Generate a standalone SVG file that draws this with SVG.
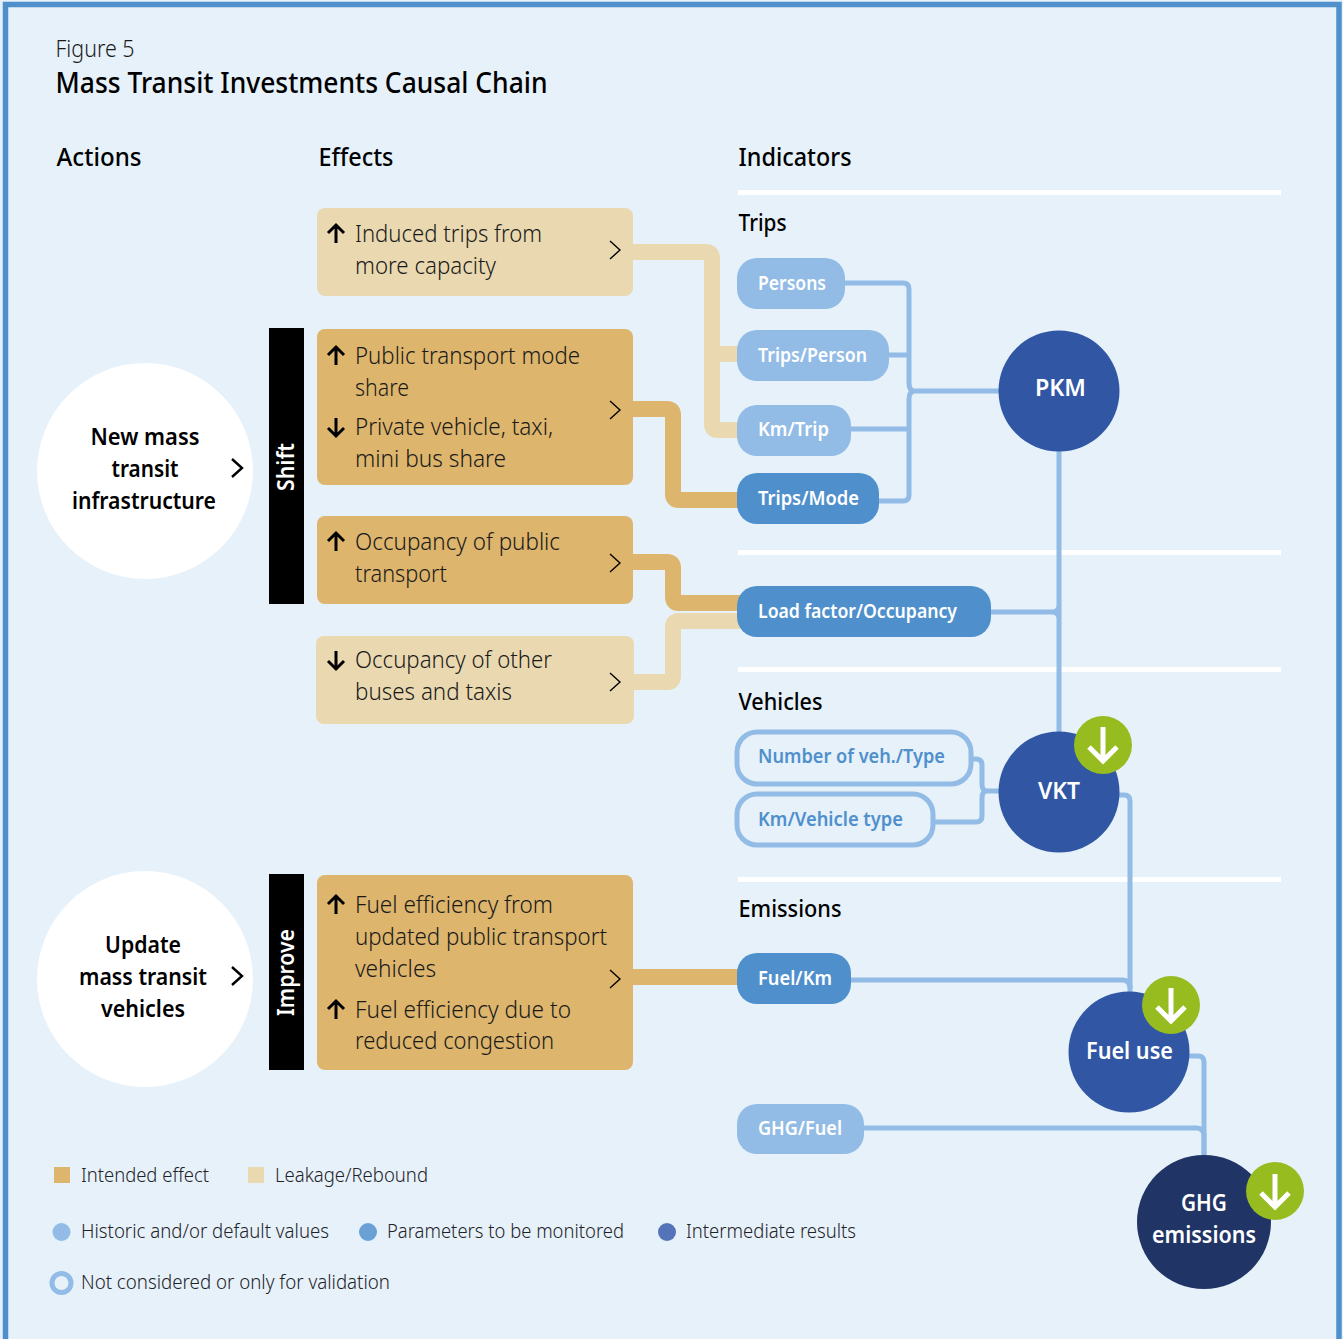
<svg xmlns="http://www.w3.org/2000/svg" width="1343" height="1339" viewBox="0 0 1343 1339">
<defs><style>
text{font-family:"Noto Sans","Open Sans","Liberation Sans",sans-serif;fill:#1a1a1a}
.h{font-size:26px;font-weight:500;fill:#000}
.s{font-size:23.5px;font-weight:500;fill:#000}
.b{font-size:24.5px;font-weight:300;fill:#1a1a1a}
.a{font-size:24px;font-weight:600;fill:#000;text-anchor:middle}
.p{font-size:19.5px;font-weight:600;fill:#fff}
.o{font-size:19.5px;font-weight:600;fill:#4f90cc}
.c{font-size:24px;font-weight:600;fill:#fff;text-anchor:middle}
.l{font-size:20px;font-weight:300;fill:#1f2328}
.light{fill:#92bce6}.mid{fill:#4f90cc}
.out{fill:#e6f1fa;stroke:#92bce6;stroke-width:5}
.intended{fill:#ddb56c}.leak{fill:#ead9b0}
.pkm{fill:#3157a4}.ghg{fill:#203465}.g{fill:#96bc20}
.arrw{fill:none;stroke:#fff;stroke-width:5}
.ar{fill:none;stroke:#000;stroke-width:3}
.ch{fill:none;stroke:#000;stroke-width:1.4}
.chb{fill:none;stroke:#000;stroke-width:2.4}
.w16i{fill:none;stroke:#ddb56c;stroke-width:16}
.w16l{fill:none;stroke:#ead9b0;stroke-width:16}
.w5{fill:none;stroke:#92bce6;stroke-width:5}
</style></defs>
<rect x="0" y="0" width="1343" height="1339" fill="#e6f1fa"/>
<path d="M5.500 1339V4.500H1339V1339" fill="none" stroke="#4f90cc" stroke-width="5.500"/>
<g id="titles">
<text x="55.500" y="57" font-size="23" font-weight="300" textLength="79" lengthAdjust="spacingAndGlyphs">Figure 5</text>
<text x="55.500" y="93" font-size="28" font-weight="500" style="fill:#000" textLength="492" lengthAdjust="spacingAndGlyphs">Mass Transit Investments Causal Chain</text>
<text class="h" x="56.500" y="166" textLength="85" lengthAdjust="spacingAndGlyphs">Actions</text>
<text class="h" x="318.500" y="166" textLength="75" lengthAdjust="spacingAndGlyphs">Effects</text>
<text class="h" x="738.500" y="166" textLength="113" lengthAdjust="spacingAndGlyphs">Indicators</text>
<text class="s" x="738.500" y="231" textLength="48" lengthAdjust="spacingAndGlyphs">Trips</text>
<text class="s" x="738.500" y="710" textLength="84" lengthAdjust="spacingAndGlyphs">Vehicles</text>
<text class="s" x="738.500" y="917" textLength="103" lengthAdjust="spacingAndGlyphs">Emissions</text>
</g>
<g id="dividers" fill="#fff">
<rect x="738" y="190" width="543" height="5"/>
<rect x="738" y="550" width="543" height="5"/>
<rect x="738" y="667" width="543" height="5"/>
<rect x="738" y="877" width="543" height="5"/>
</g>
<g id="connectors">
<path class="w16l" d="M630 252H706q6 0 6 6V424q0 6 6 6H740M712 354H740"/>
<path class="w16i" d="M630 409H667q6 0 6 6V494q0 6 6 6H740"/>
<path class="w16i" d="M630 562H667q6 0 6 6V597q0 6 6 6H740"/>
<path class="w16l" d="M630 682H667q6 0 6 -6V627q0 -6 6 -6H740"/>
<path class="w16i" d="M630 977H740"/>
<path class="w5" d="M843 283H903q6 0 6 6V383q0 8 6 8H1000M887 355H909M849 429H909M877 501H903q6 0 6 -6V399q0 -8 6 -8"/>
<path class="w5" d="M1059 448V733M988 612H1052q7 0 7 -7M1052 612q7 0 7 7"/>
<path class="w5" d="M970 759H976q6 0 6 6V784q0 7 5 7H1000M930 822H976q6 0 6 -6V798q0 -7 5 -7"/>
<path class="w5" d="M1116 795H1124q6 0 6 6V994"/>
<path class="w5" d="M849 980H1122q8 0 8 8"/>
<path class="w5" d="M1186 1056H1198q6 0 6 6V1158"/>
<path class="w5" d="M862 1128H1196q8 0 8 8V1158"/>
</g>
<g id="action-new"><circle cx="145" cy="471" r="108" fill="#fff"/>
<text class="a" x="145" y="445" textLength="109" lengthAdjust="spacingAndGlyphs">New mass</text>
<text class="a" x="145" y="477" textLength="67" lengthAdjust="spacingAndGlyphs">transit</text>
<text class="a" x="144" y="509" textLength="144" lengthAdjust="spacingAndGlyphs">infrastructure</text>
<path class="chb" d="M232 459l10 9l-10 9"/></g>
<g id="action-update"><circle cx="145" cy="979" r="108" fill="#fff"/>
<text class="a" x="143" y="953" textLength="76" lengthAdjust="spacingAndGlyphs">Update</text>
<text class="a" x="143" y="985" textLength="128" lengthAdjust="spacingAndGlyphs">mass transit</text>
<text class="a" x="143" y="1017" textLength="84" lengthAdjust="spacingAndGlyphs">vehicles</text>
<path class="chb" d="M232 967l10 9l-10 9"/></g>
<g id="bar-shift"><rect x="269" y="328" width="35" height="276" fill="#000"/>
<text transform="translate(294 491) rotate(-90)" x="0" y="0" style="fill:#fff" font-size="24" font-weight="600" textLength="48" lengthAdjust="spacingAndGlyphs">Shift</text></g>
<g id="bar-improve"><rect x="269" y="874" width="35" height="196" fill="#000"/>
<text transform="translate(294 1016) rotate(-90)" x="0" y="0" style="fill:#fff" font-size="24" font-weight="600" textLength="87" lengthAdjust="spacingAndGlyphs">Improve</text></g>
<g id="effect-induced"><rect class="leak" x="317" y="208" width="316" height="88" rx="8"/>
<path class="ar" d="M336 243V225M328 233l8 -8l8 8"/>
<text class="b" x="355" y="242" textLength="187" lengthAdjust="spacingAndGlyphs">Induced trips from</text>
<text class="b" x="355" y="274" textLength="141" lengthAdjust="spacingAndGlyphs">more capacity</text>
<path class="ch" d="M610 241l10 9l-10 9"/></g>
<g id="effect-mode"><rect class="intended" x="317" y="329" width="316" height="156" rx="8"/>
<path class="ar" d="M336 365V347M328 355l8 -8l8 8"/>
<text class="b" x="355" y="364" textLength="225" lengthAdjust="spacingAndGlyphs">Public transport mode</text>
<text class="b" x="355" y="396" textLength="54" lengthAdjust="spacingAndGlyphs">share</text>
<path class="ar" d="M336 418V436M328 428l8 8l8 -8"/>
<text class="b" x="355" y="435" textLength="198" lengthAdjust="spacingAndGlyphs">Private vehicle, taxi,</text>
<text class="b" x="355" y="467" textLength="151" lengthAdjust="spacingAndGlyphs">mini bus share</text>
<path class="ch" d="M610 401l10 9l-10 9"/></g>
<g id="effect-occupancy-public"><rect class="intended" x="317" y="516" width="316" height="88" rx="8"/>
<path class="ar" d="M336 551V533M328 541l8 -8l8 8"/>
<text class="b" x="355" y="550" textLength="205" lengthAdjust="spacingAndGlyphs">Occupancy of public</text>
<text class="b" x="355" y="582" textLength="92" lengthAdjust="spacingAndGlyphs">transport</text>
<path class="ch" d="M610 554l10 9l-10 9"/></g>
<g id="effect-occupancy-other"><rect class="leak" x="316" y="636" width="318" height="88" rx="8"/>
<path class="ar" d="M336 651V669M328 661l8 8l8 -8"/>
<text class="b" x="355" y="668" textLength="197" lengthAdjust="spacingAndGlyphs">Occupancy of other</text>
<text class="b" x="355" y="700" textLength="157" lengthAdjust="spacingAndGlyphs">buses and taxis</text>
<path class="ch" d="M610 673l10 9l-10 9"/></g>
<g id="effect-fuel"><rect class="intended" x="317" y="875" width="316" height="195" rx="8"/>
<path class="ar" d="M336 914V896M328 904l8 -8l8 8"/>
<text class="b" x="355" y="913" textLength="198" lengthAdjust="spacingAndGlyphs">Fuel efficiency from</text>
<text class="b" x="355" y="945" textLength="252" lengthAdjust="spacingAndGlyphs">updated public transport</text>
<text class="b" x="355" y="977" textLength="81" lengthAdjust="spacingAndGlyphs">vehicles</text>
<path class="ar" d="M336 1019V1001M328 1009l8 -8l8 8"/>
<text class="b" x="355" y="1018" textLength="216" lengthAdjust="spacingAndGlyphs">Fuel efficiency due to</text>
<text class="b" x="355" y="1049" textLength="199" lengthAdjust="spacingAndGlyphs">reduced congestion</text>
<path class="ch" d="M610 970l10 9l-10 9"/></g>
<g id="ind-persons"><rect class="light" x="737" y="258" width="108" height="51" rx="20"/><text class="p" x="758" y="290" textLength="68" lengthAdjust="spacingAndGlyphs">Persons</text></g>
<g id="ind-trips-person"><rect class="light" x="737" y="330" width="152" height="51" rx="20"/><text class="p" x="758" y="362" textLength="109" lengthAdjust="spacingAndGlyphs">Trips/Person</text></g>
<g id="ind-km-trip"><rect class="light" x="737" y="405" width="114" height="51" rx="20"/><text class="p" x="758" y="436" textLength="71" lengthAdjust="spacingAndGlyphs">Km/Trip</text></g>
<g id="ind-trips-mode"><rect class="mid" x="737" y="473" width="142" height="51" rx="20"/><text class="p" x="758" y="505" textLength="101" lengthAdjust="spacingAndGlyphs">Trips/Mode</text></g>
<g id="ind-load"><rect class="mid" x="737" y="586" width="254" height="51" rx="20"/><text class="p" x="758" y="618" textLength="199" lengthAdjust="spacingAndGlyphs">Load factor/Occupancy</text></g>
<g id="ind-number"><rect class="out" x="737" y="732" width="234" height="52" rx="20"/><text class="o" x="758" y="763" textLength="187" lengthAdjust="spacingAndGlyphs">Number of veh./Type</text></g>
<g id="ind-km-vehicle"><rect class="out" x="737" y="794" width="196" height="51" rx="20"/><text class="o" x="758" y="826" textLength="145" lengthAdjust="spacingAndGlyphs">Km/Vehicle type</text></g>
<g id="ind-fuel-km"><rect class="mid" x="737" y="953" width="114" height="51" rx="20"/><text class="p" x="758" y="985" textLength="74" lengthAdjust="spacingAndGlyphs">Fuel/Km</text></g>
<g id="ind-ghg-fuel"><rect class="light" x="737" y="1104" width="127" height="50" rx="20"/><text class="p" x="758" y="1135" textLength="84" lengthAdjust="spacingAndGlyphs">GHG/Fuel</text></g>
<g id="res-pkm"><circle class="pkm" cx="1059" cy="391" r="60.500"/><text class="c" x="1060.500" y="396" textLength="51" lengthAdjust="spacingAndGlyphs">PKM</text></g>
<g id="res-vkt"><circle class="pkm" cx="1059" cy="792" r="60.500"/><text class="c" x="1059" y="799" textLength="42" lengthAdjust="spacingAndGlyphs">VKT</text>
<circle class="g" cx="1103" cy="745" r="29"/><path class="arrw" d="M1103 727V760M1089 747l14 14l14 -14"/></g>
<g id="res-fuel"><circle class="pkm" cx="1129" cy="1052" r="60.500"/><text class="c" x="1129.500" y="1059" textLength="87" lengthAdjust="spacingAndGlyphs">Fuel use</text>
<circle class="g" cx="1171" cy="1005" r="29"/><path class="arrw" d="M1171 988V1021M1157 1007l14 14l14 -14"/></g>
<g id="res-ghg"><circle class="ghg" cx="1204" cy="1222" r="67"/>
<text class="c" x="1204" y="1211" textLength="46" lengthAdjust="spacingAndGlyphs">GHG</text>
<text class="c" x="1204" y="1243" textLength="104" lengthAdjust="spacingAndGlyphs">emissions</text>
<circle class="g" cx="1275" cy="1191" r="29"/><path class="arrw" d="M1275 1174V1207M1261 1193l14 14l14 -14"/></g>
<g id="legend">
<rect class="intended" x="54" y="1167" width="16" height="16"/><text class="l" x="81" y="1182" textLength="128" lengthAdjust="spacingAndGlyphs">Intended effect</text>
<rect class="leak" x="248" y="1167" width="16" height="16"/><text class="l" x="275" y="1182" textLength="153" lengthAdjust="spacingAndGlyphs">Leakage/Rebound</text>
<circle class="light" cx="61.500" cy="1232" r="9"/><text class="l" x="81" y="1238" textLength="248" lengthAdjust="spacingAndGlyphs">Historic and/or default values</text>
<circle cx="368" cy="1232" r="9" fill="#6aa0d6"/><text class="l" x="387" y="1238" textLength="237" lengthAdjust="spacingAndGlyphs">Parameters to be monitored</text>
<circle cx="667" cy="1232" r="9" fill="#5573b8"/><text class="l" x="686" y="1238" textLength="170" lengthAdjust="spacingAndGlyphs">Intermediate results</text>
<circle cx="61.500" cy="1283" r="9.500" fill="#e6f1fa" stroke="#92bce6" stroke-width="5"/><text class="l" x="81" y="1289" textLength="309" lengthAdjust="spacingAndGlyphs">Not considered or only for validation</text>
</g>
</svg>
